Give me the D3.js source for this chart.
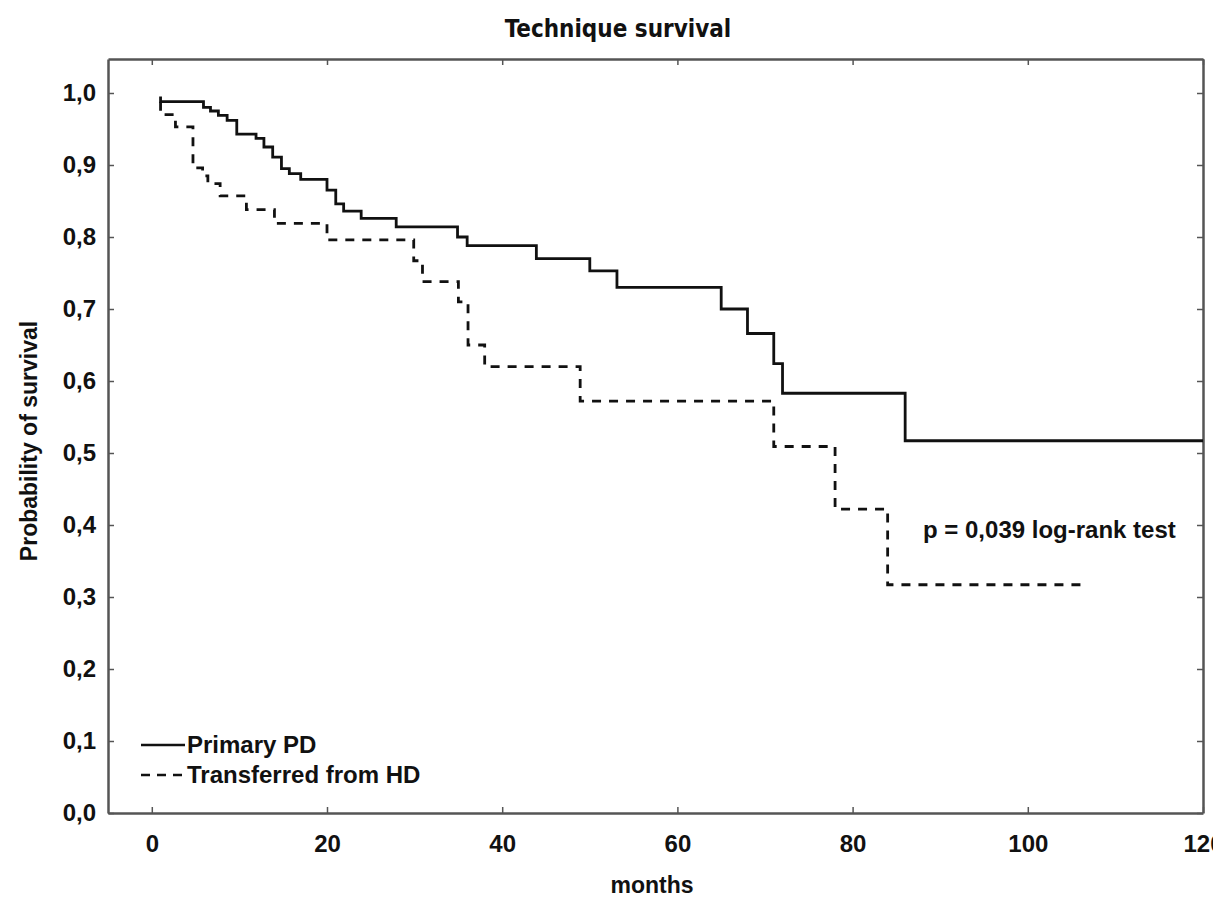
<!DOCTYPE html>
<html>
<head>
<meta charset="utf-8">
<script src="https://cdn.jsdelivr.net/npm/d3@7"></script>
<style>
    body { margin: 0; background: #fff; }
    text { font-family: "Liberation Sans", Arial, sans-serif; fill: #111; font-weight: bold; }
    .axis text { font-size: 24px; font-family: "Liberation Sans", Arial, sans-serif; }
    .axis path, .axis line { stroke: #555; }
</style>
</head>
<body>
<svg id="plot-svg"></svg>
<script>
// Primary PD (solid)
const primaryTimes = [1, 1, 5.9, 6.7, 7.6, 8.6, 9.7, 11.9, 12.8, 13.8, 14.8, 15.7, 17.0, 20.0, 21.0, 21.9, 23.9, 27.9, 34.9, 36.0, 43.9, 50.0, 53.1, 65.0, 68.0, 71.0, 72.0, 86.0];
const primarySurv  = [0.995, 0.988, 0.980, 0.975, 0.969, 0.962, 0.943, 0.937, 0.925, 0.911, 0.895, 0.888, 0.880, 0.865, 0.846, 0.836, 0.826, 0.814, 0.800, 0.788, 0.770, 0.753, 0.730, 0.700, 0.666, 0.624, 0.583, 0.517];
const primaryEnd = 120;

// Transferred from HD (dashed)
const transferTimes = [1, 1, 2.7, 4.7, 5.8, 6.4, 7.8, 10.8, 14.0, 20.0, 29.9, 30.9, 35.0, 36.1, 38.0, 48.9, 71.0, 78.0, 84.0];
const transferSurv  = [0.988, 0.970, 0.953, 0.896, 0.885, 0.874, 0.857, 0.838, 0.819, 0.796, 0.767, 0.738, 0.710, 0.650, 0.620, 0.572, 0.509, 0.422, 0.317];
const transferEnd = 106.3;

const xTicks = [0, 20, 40, 60, 80, 100, 120];
const yTicks = [0, 0.1, 0.2, 0.3, 0.4, 0.5, 0.6, 0.7, 0.8, 0.9, 1.0];

const seriesNames = ["Primary PD", "Transferred from HD"];

var margin = {left: 108, right: 10, top: 59, bottom: 85},
    width = 1203 - 108,
    height = 813 - 59;

const svg = d3.select("#plot-svg")
    .attr("width", 1213)
    .attr("height", 898);

const g = svg.append("g")
    .attr("transform", "translate(" + margin.left + "," + margin.top + ")");

const xScale = d3.scaleLinear().domain([-5, 120]).range([0, width]);
const yScale = d3.scaleLinear().domain([0, 1.0 + 34 / 720]).range([height, 0]);

// оси
g.append("g")
    .attr("class", "axis")
    .attr("transform", "translate(0," + height + ")")
    .call(d3.axisBottom(xScale).tickValues(xTicks).tickSizeInner(-6).tickSizeOuter(0).tickPadding(22));

g.append("g")
    .attr("class", "axis")
    .call(d3.axisLeft(yScale).tickValues(yTicks).tickSizeInner(-6).tickSizeOuter(0).tickPadding(12)
        .tickFormat(d => d3.format(".1f")(d).replace(".", ",")));

g.append("g")
    .attr("class", "axis")
    .call(d3.axisTop(xScale).tickValues(xTicks).tickSizeInner(-6).tickSizeOuter(0).tickFormat(""));

g.append("g")
    .attr("class", "axis")
    .attr("transform", "translate(" + width + ",0)")
    .call(d3.axisRight(yScale).tickValues(yTicks).tickSizeInner(-6).tickSizeOuter(0).tickFormat(""));

g.selectAll(".axis path.domain").attr("stroke-width", 2.5);
g.selectAll(".axis line").attr("stroke-width", 1.5);

// кривые
function stepPoints(times, surv, end) {
    let pts = times.map((t, i) => [t, surv[i]]);
    pts.push([end, surv[surv.length - 1]]);
    return pts;
}

const line = d3.line()
    .x(d => xScale(d[0]))
    .y(d => yScale(d[1]))
    .curve(d3.curveStepAfter);

g.append("path")
    .datum(stepPoints(primaryTimes, primarySurv, primaryEnd))
    .attr("fill", "none")
    .attr("stroke", "#111")
    .attr("stroke-width", 2.8)
    .attr("d", line);

g.append("path")
    .datum(stepPoints(transferTimes, transferSurv, transferEnd))
    .attr("fill", "none")
    .attr("stroke", "#111")
    .attr("stroke-width", 2.8)
    .attr("stroke-dasharray", "9,8")
    .attr("d", line);

// заголовок
svg.append("text")
    .attr("x", 618)
    .attr("y", 37)
    .attr("text-anchor", "middle")
    .style("font-family", "'DejaVu Sans Condensed', 'Liberation Sans', sans-serif")
    .style("font-size", "24px")
    .text("Technique survival");

// подпись X
svg.append("text")
    .attr("x", 652)
    .attr("y", 893)
    .attr("text-anchor", "middle")
    .style("font-size", "23px")
    .text("months");

// подпись Y
svg.append("text")
    .attr("transform", "translate(37,441) rotate(-90)")
    .attr("text-anchor", "middle")
    .style("font-size", "23px")
    .text("Probability of survival");

// p-value
svg.append("text")
    .attr("x", 923)
    .attr("y", 538)
    .style("font-size", "24px")
    .text("p = 0,039 log-rank test");

// легенда
const legend = svg.append("g").attr("transform", "translate(141,745)");
legend.selectAll("line")
    .data(seriesNames)
    .enter()
    .append("line")
    .attr("x1", 0)
    .attr("x2", 44)
    .attr("y1", (d, i) => i * 30)
    .attr("y2", (d, i) => i * 30)
    .attr("stroke", "#111")
    .attr("stroke-width", 2.5)
    .attr("stroke-dasharray", (d, i) => i === 0 ? null : "9,7");
legend.selectAll("text")
    .data(seriesNames)
    .enter()
    .append("text")
    .attr("x", 46)
    .attr("y", (d, i) => i * 30 + 8)
    .style("font-size", "24px")
    .text(d => d);
</script>
</body>
</html>
